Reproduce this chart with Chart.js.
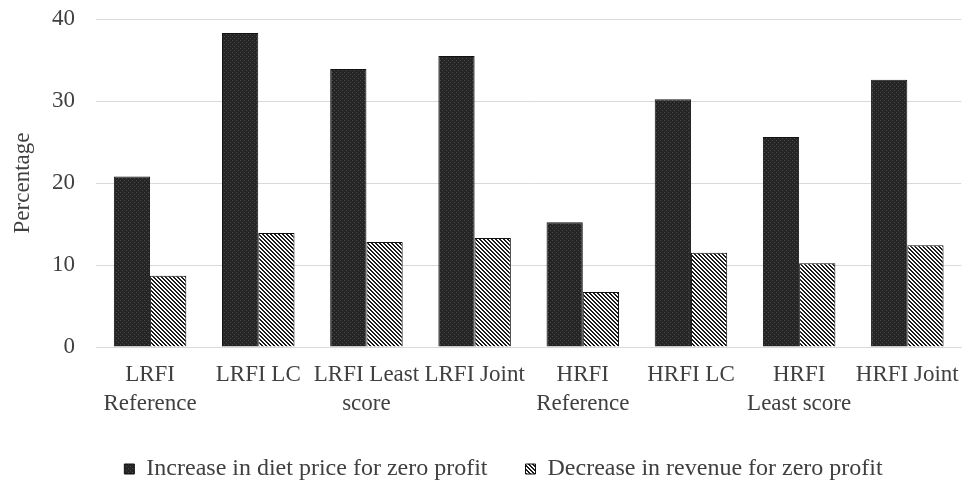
<!DOCTYPE html>
<html>
<head>
<meta charset="utf-8">
<script src="https://cdn.jsdelivr.net/npm/chart.js@4/dist/chart.umd.min.js"></script>
<style>
	html, body { margin: 0; padding: 0; background: #fff; }
	#chart { display: block; }
</style>
</head>
<body>
<canvas id="chart" width="973" height="484"></canvas>
<script>
// values
var categories = [['LRFI', 'Reference'], 'LRFI LC', ['LRFI Least', 'score'], 'LRFI Joint', ['HRFI', 'Reference'], 'HRFI LC', ['HRFI', 'Least score'], 'HRFI Joint'];
var dietPriceIncrease = [20.8, 38.3, 33.9, 35.5, 15.2, 30.2, 25.6, 32.6];
var revenueDecrease = [8.7, 13.9, 12.8, 13.3, 6.7, 11.5, 10.2, 12.4];
var seriesNames = ['Increase in diet price for zero profit', 'Decrease in revenue for zero profit'];
var yMin = 0, yMax = 40, yStep = 10;

var textColor = '#404040';
var fontFamily = "'Liberation Serif', 'Times New Roman', serif";

function makePattern(size, draw){
	var c = document.createElement('canvas');
	c.width = size;
	c.height = size;
	draw(c.getContext('2d'));

	return c.getContext('2d').createPattern(c, 'repeat');
}

// dark fill with a faint dotted grid
var darkFill = makePattern(4, function(ctx){
	ctx.fillStyle = '#252525';
	ctx.fillRect(0, 0, 4, 4);
	ctx.fillStyle = '#4a4a4a';
	ctx.fillRect(0, 0, 1, 1);
	ctx.fillRect(2, 2, 1, 1);
});

// black/white diagonal hatch, going down to the right
var hatchFill = makePattern(4, function(ctx){
	ctx.fillStyle = '#ffffff';
	ctx.fillRect(0, 0, 4, 4);
	ctx.fillStyle = '#1c1c1c';
	for(var i = 0; i < 4; i++){
		ctx.fillRect(i, i, 1, 1);
		ctx.fillRect((i + 1) % 4, i, 1, 1);
	}
});

var ctx = document.getElementById('chart').getContext('2d');

var chart = new Chart(ctx, {
	type: 'bar',
	data: {
		labels: categories,
		datasets: [
			{
				label: seriesNames[0],
				data: dietPriceIncrease,
				backgroundColor: darkFill,
				borderColor: '#111',
				borderWidth: 1,
				categoryPercentage: 0.67,
				barPercentage: 1
			},
			{
				label: seriesNames[1],
				data: revenueDecrease,
				backgroundColor: hatchFill,
				borderColor: '#111',
				borderWidth: 1,
				categoryPercentage: 0.67,
				barPercentage: 1
			}
		]
	},
	options: {
		responsive: false,
		devicePixelRatio: 1,
		animation: false,
		// left padding pushes the legend a bit right, like the original
		layout: { padding: { top: 19, right: 4, left: 38, bottom: -7 } },
		plugins: {
			tooltip: { enabled: false },
			legend: {
				position: 'bottom',
				labels: {
					color: textColor,
					font: { family: fontFamily, size: 24 },
					boxWidth: 10,
					boxHeight: 10,
					padding: 38
				}
			}
		},
		scales: {
			x: {
				grid: { display: false, drawTicks: false },
				border: { display: true, color: '#d9d9d9', width: 1 },
				ticks: {
					color: textColor,
					font: { family: fontFamily, size: 23, lineHeight: 1.25 },
					maxRotation: 0,
					autoSkip: false,
					padding: 14
				},
				afterFit: function(scale){
					scale.height = 72;
				}
			},
			y: {
				min: yMin,
				max: yMax,
				grid: { color: '#d9d9d9', drawTicks: false },
				border: { display: false },
				ticks: {
					stepSize: yStep,
					color: textColor,
					font: { family: fontFamily, size: 23 },
					padding: 21
				},
				title: {
					display: true,
					text: 'Percentage',
					color: textColor,
					font: { family: fontFamily, size: 23 },
					padding: { top: -29, bottom: 0 }
				},
				afterFit: function(scale){
					scale.width = 58;
					scale.paddingTop = 0;
					scale.paddingBottom = 0;
				}
			}
		}
	}
});
</script>
</body>
</html>
